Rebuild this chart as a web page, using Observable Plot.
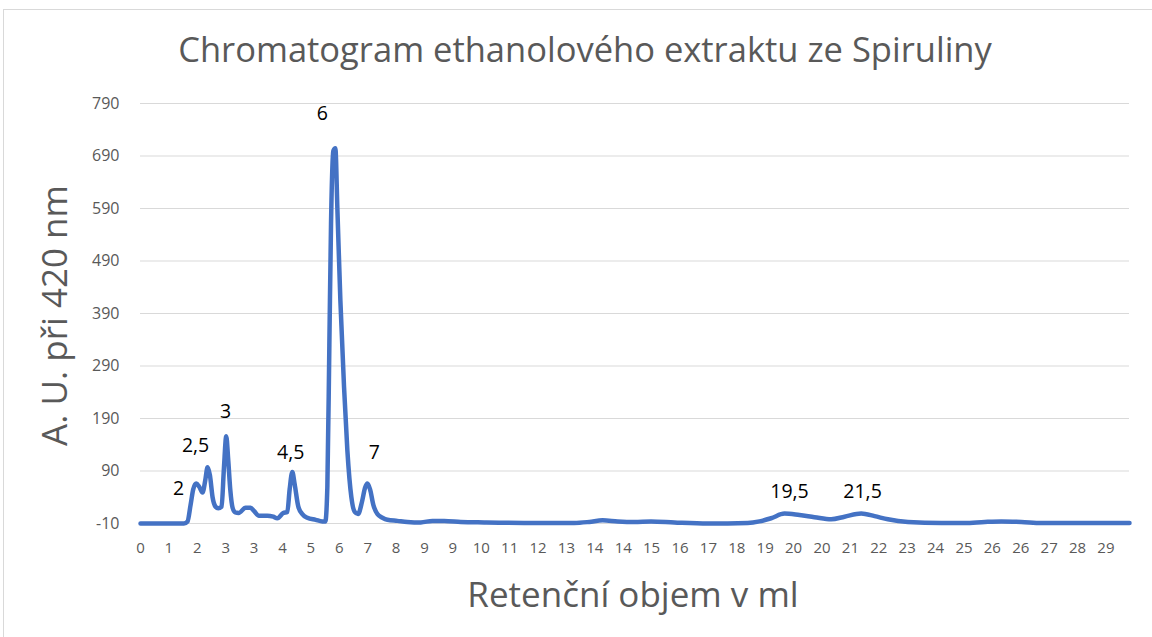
<!DOCTYPE html>
<html>
<head>
<meta charset="utf-8">
<script src="https://cdn.jsdelivr.net/npm/d3@7"></script>
<script src="https://cdn.jsdelivr.net/npm/@observablehq/plot@0.6"></script>
<style>
  html, body { margin: 0; padding: 0; background: #fff; }
  #wrap { position: relative; width: 1152px; height: 637px; overflow: hidden; }
  #border { position: absolute; left: 3px; top: 9px; width: 1160px; height: 640px; border: 1px solid #d9d9d9; pointer-events: none; }
  svg { font-family: "Open Sans", sans-serif; }
</style>
</head>
<body>
<div id="wrap"><div id="border"></div></div>
<script>
// ---- data ----
const titleText = "Chromatogram ethanolového extraktu ze Spiruliny";
const xLabelText = "Retenční objem v ml";
const yLabelText = "A. U. při 420 nm";

const xTickLabels = ["0","1","2","3","3","4","5","6","7","8","9","9","10","11","12","13","14","14","15","16","17","18","19","20","20","21","22","23","24","25","26","26","27","28","29"];
const xTickStep = 0.851;
const yTicks = [-10, 90, 190, 290, 390, 490, 590, 690, 790];

const retention = [0, 1.30, 1.41, 1.50, 1.58, 1.67, 1.76, 1.86, 1.94, 2.01, 2.08, 2.16, 2.25, 2.33, 2.43, 2.50, 2.57, 2.63, 2.69, 2.76, 2.84, 2.94, 3.15, 3.30, 3.40, 3.55, 3.80, 3.98, 4.10, 4.28, 4.40, 4.47, 4.55, 4.62, 4.73, 4.85, 5.00, 5.25, 5.45, 5.54, 5.60, 5.66, 5.71, 5.78, 5.84, 5.90, 5.99, 6.10, 6.20, 6.32, 6.42, 6.52, 6.64, 6.73, 6.80, 6.88, 6.98, 7.10, 7.25, 7.40, 7.70, 8.00, 8.40, 8.75, 9.10, 9.60, 10.3, 11.5, 13.0, 13.45, 13.85, 14.3, 14.8, 15.3, 16.0, 17.0, 18.2, 18.55, 18.9, 19.3, 19.75, 20.2, 20.7, 21.1, 21.6, 22.0, 22.4, 23.0, 24.0, 24.7, 25.3, 25.8, 26.4, 27.0, 28.0, 29.64];
const absorbance = [-10, -10, -6, 25, 55, 66, 60, 49, 72, 97, 82, 40, 22, 19, 22, 95, 156, 110, 55, 20, 11, 10, 20, 20, 14, 5, 5, 3, 0, 10, 12, 55, 88, 65, 22, 8, 1, -3, -6, -6, 60, 330, 561, 700, 705, 590, 415, 250, 129, 40, 12, 8, 32, 58, 66, 55, 25, 8, 1, -3, -5, -7, -8, -5, -5, -7, -8, -9, -9, -7, -4, -6, -7, -6, -8, -10, -9, -6, 0, 9, 6, 2, -2, 3, 9, 4, -2, -7, -9, -9, -7, -6, -7, -9, -9, -9];

const peakLabels = ["2", "2,5", "3", "4,5", "6", "7", "19,5", "21,5"];
const peakLabelX = [1.14, 1.65, 2.55, 4.50, 5.45, 7.01, 19.45, 21.64];
const peakLabelY = [57, 139, 203, 125, 771, 125, 51, 51];

// ---- build ----
const series = retention.map((r, i) => ({ r, a: absorbance[i] }));
const peaks = peakLabels.map((t, i) => ({ t, x: peakLabelX[i], y: peakLabelY[i] }));
const xTicks = xTickLabels.map((t, i) => ({ v: i * xTickStep, t }));

const chart = Plot.plot({
  width: 1152,
  height: 637,
  marginLeft: 140,
  marginRight: 23,
  marginTop: 103,
  marginBottom: 114,
  style: { fontFamily: "'Open Sans', sans-serif", background: "transparent" },
  x: { domain: [0, 29.64], axis: null },
  y: { domain: [-10, 790], axis: null },
  marks: [
    Plot.gridY(yTicks, { stroke: "#d9d9d9", strokeOpacity: 1, strokeWidth: 1 }),
    // y tick labels
    Plot.text(yTicks, { y: d => d, text: d => String(d), frameAnchor: "left", textAnchor: "end", dx: -21, fontSize: 16, fill: "#595959" }),
    // x tick labels
    Plot.text(xTicks, { x: "v", text: "t", frameAnchor: "bottom", lineAnchor: "middle", dy: 25, fontSize: 15, fill: "#595959" }),
    Plot.line(series, { x: "r", y: "a", stroke: "#4472C4", strokeWidth: 4.5, curve: "monotone-x", strokeLinejoin: "round", strokeLinecap: "round" }),
    Plot.text(peaks, { x: "x", y: "y", text: "t", fontSize: 19.5, fill: "#000" }),
    Plot.text([titleText], { frameAnchor: "top", lineAnchor: "middle", textAnchor: "middle", dy: -53, dx: -50, fontSize: 34.5, fill: "#595959" }),
    Plot.text([yLabelText], { frameAnchor: "left", lineAnchor: "middle", textAnchor: "middle", dx: -85, dy: 2, rotate: -90, fontSize: 35, fill: "#595959" }),
    Plot.text([xLabelText], { frameAnchor: "bottom", lineAnchor: "middle", textAnchor: "middle", dy: 72, dx: -2, fontSize: 35, fill: "#595959" })
  ]
});
document.getElementById("wrap").prepend(chart);
</script>
</body>
</html>
